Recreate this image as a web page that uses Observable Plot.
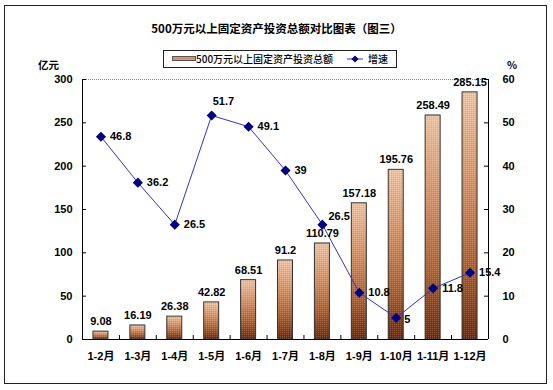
<!DOCTYPE html>
<html><head><meta charset="utf-8">
<script src="https://cdn.jsdelivr.net/npm/d3@7"></script>
<script src="https://cdn.jsdelivr.net/npm/@observablehq/plot@0.6"></script>
<style>
body{margin:0;background:#fff}
#wrap{position:relative;width:553px;height:390px;overflow:hidden;background:#fff}
#border{position:absolute;left:4px;top:5px;width:541px;height:377px;border:1px solid #222}
#title{position:absolute;left:0;width:553px;top:20px;text-align:center;font:bold 11.5px "Noto Sans CJK SC",sans-serif;color:#000}
#legend{position:absolute;left:163px;top:50px;width:232px;height:16px;border:1px solid #222;font:500 10px "Noto Sans CJK SC",sans-serif;color:#000}
.unit{position:absolute;font:bold 10.5px "Noto Sans CJK SC",sans-serif;color:#000;line-height:12px}
#chart{position:absolute;left:0;top:0}
</style></head><body>
<div id="wrap">
  <div id="border"></div>
  <div id="chart"></div>
  <div id="title">500万元以上固定资产投资总额对比图表（图三）</div>
  <div id="legend">
    <svg width="232" height="16" style="position:absolute;left:0;top:0">
      <rect x="8.5" y="5.5" width="23" height="4" fill="#d9906c" stroke="#555"/>
      <line x1="183" y1="8" x2="199" y2="8" stroke="#3333bb"/>
      <path d="M191 4.5 L194.5 8 L191 11.5 L187.5 8Z" fill="#000080"/>
    </svg>
    <span style="position:absolute;left:32px;top:0px;line-height:16px">500万元以上固定资产投资总额</span>
    <span style="position:absolute;left:204px;top:0px;line-height:16px">增速</span>
  </div>
  <div class="unit" style="left:38px;top:59px">亿元</div>
  <div class="unit" style="left:507px;top:59px">%</div>
</div>
<script>
const categories = ["1-2月","1-3月","1-4月","1-5月","1-6月","1-7月","1-8月","1-9月","1-10月","1-11月","1-12月"];
const investment = [9.08,16.19,26.38,42.82,68.51,91.2,110.79,157.18,195.76,258.49,285.15];
const growth = [46.8,36.2,26.5,51.7,49.1,39,26.5,10.8,5,11.8,15.4];
const leftTicks = [0,50,100,150,200,250,300];
const rightTicks = [0,10,20,30,40,50,60];

const ratio = 300/60;
const rows = categories.map((c,i)=>({cat:c, inv:investment[i], g:growth[i], gy:growth[i]*ratio, i}));

const W=553,H=390,ML=82,MR=65,MT=79,MB=51;
const plotW = W-ML-MR;
const step = plotW/categories.length;
const barW = 15;
const inset = (step-barW)/2;
const pxPerUnit = (H-MT-MB)/300;
const font = '"Liberation Sans","Noto Sans CJK SC",sans-serif';

const special = new Set([3,6,8]);
const chart = Plot.plot({
  width: W, height: H, marginLeft: ML, marginRight: MR, marginTop: MT, marginBottom: MB,
  style: {fontFamily: font, fontSize: "11px", fontWeight: "bold", background: "transparent", color:"#000"},
  x: {domain: categories, padding: 0, round: false, label: null},
  y: {domain: [0,300], label: null},
  marks: [
    Plot.ruleY([300], {stroke:"#888", strokeDasharray:"1,1"}),
    Plot.barY(rows, {x:"cat", y:"inv", insetLeft: inset, insetRight: inset, fill:"url(#barGrad)", stroke:"#333", strokeWidth:1}),
    Plot.barY(rows, {x:"cat", y:"inv", insetLeft: inset+1, insetRight: inset+1, fill:"url(#dots)"}),
    Plot.axisY(leftTicks, {anchor:"left", tickSize:0, tickPadding:10, label:null}),
    Plot.tickY(leftTicks, {y: d=>d, insetRight: plotW-4, stroke:"#000"}),
    Plot.axisY(rightTicks.map(d=>d*ratio), {anchor:"right", tickSize:0, tickPadding:14, tickFormat: d=>String(d/ratio), label:null}),
    Plot.tickY(rightTicks.map(d=>d*ratio), {y: d=>d, insetLeft: plotW-4, stroke:"#000"}),
    Plot.axisX({tickSize:0, tickPadding:13, label:null}),
    Plot.ruleX(categories.slice(1), {x: d=>d, dx: -step/2, y1:0, y2: 4/pxPerUnit, stroke:"#000"}),
    Plot.ruleX([categories[0]], {x: d=>d, dx: -step/2, y1:0, y2:300, stroke:"#000"}),
    Plot.ruleX([categories[categories.length-1]], {x: d=>d, dx: step/2, y1:0, y2:300, stroke:"#000"}),
    Plot.ruleY([0], {stroke:"#000"}),
    Plot.line(rows, {x:"cat", y:"gy", stroke:"#3333bb", strokeWidth:1}),
    Plot.dot(rows, {x:"cat", y:"gy", symbol:"diamond2", r:3.6, fill:"#000080", stroke:"#000080"}),
    Plot.text(rows, {x:"cat", y:"inv", text: d=>String(d.inv), dy:-10}),
    Plot.text(rows.filter(d=>!special.has(d.i)), {x:"cat", y:"gy", text: d=>String(d.g), dx:9, textAnchor:"start"}),
    Plot.text(rows.filter(d=>d.i===3), {x:"cat", y:"gy", text: d=>String(d.g), dx:1, dy:-14, textAnchor:"start"}),
    Plot.text(rows.filter(d=>d.i===6), {x:"cat", y:"gy", text: d=>String(d.g), dx:6, dy:-8, textAnchor:"start"}),
    Plot.text(rows.filter(d=>d.i===8), {x:"cat", y:"gy", text: d=>String(d.g), dx:8, dy:2, textAnchor:"start"})
  ]
});

const defs = d3.select(chart).insert("defs", ":first-child");
const g = defs.append("linearGradient").attr("id","barGrad").attr("x1",0).attr("y1",0).attr("x2",0).attr("y2",1);
[["0%","#f0c4a2"],["35%","#d99466"],["70%","#b0602e"],["100%","#6e2a0c"]].forEach(([o,c])=>g.append("stop").attr("offset",o).attr("stop-color",c));
const p = defs.append("pattern").attr("id","dots").attr("width",2).attr("height",2).attr("patternUnits","userSpaceOnUse");
p.append("rect").attr("width",1).attr("height",1).attr("fill","rgba(255,255,255,0.16)");
p.append("rect").attr("x",1).attr("y",1).attr("width",1).attr("height",1).attr("fill","rgba(0,0,0,0.08)");

document.getElementById("chart").appendChild(chart);
</script>
</body></html>
